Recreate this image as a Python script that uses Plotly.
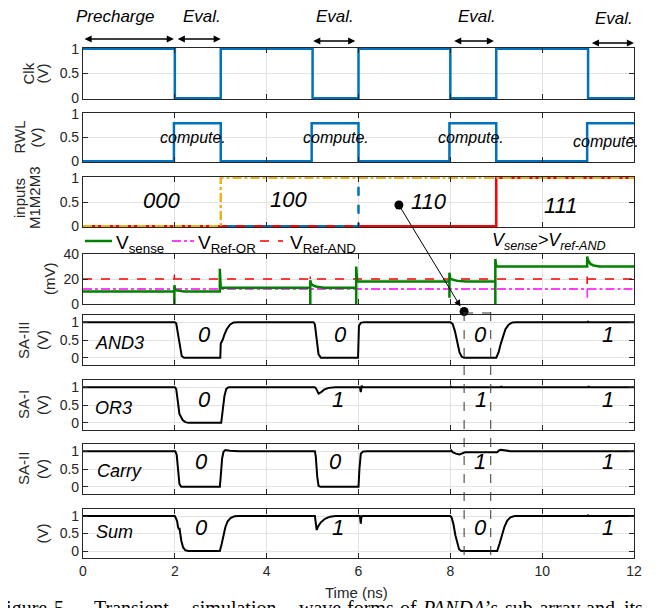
import plotly.graph_objects as go

W, H = 662, 608
OFF = 8            # browser body margin offset
L, R = 83 - OFF, 28 + OFF
PW = W - L - R
XPX = PW / 12.0


def px(xp):
    return (xp - OFF - L) / PW


def py(yp):
    return 1 - (yp - OFF) / H


FONT = "Liberation Sans, Arial, sans-serif"
SERIF = "Liberation Serif, Times New Roman, serif"
BLUE = "#0072BD"
ORANGE = "#EDB120"
RED = "#FF0000"
GREEN = "#008000"
MAGENTA = "#FF00FF"

# ---------------- data ----------------
clk_t = [0, 2, 2, 3, 3, 5, 5, 6, 6, 8, 8, 9, 9, 11, 11, 12]
clk_v = [1, 1, 0, 0, 1, 1, 0, 0, 1, 1, 0, 0, 1, 1, 0, 0]

rwl_t = [0, 1.98, 1.98, 3.0, 3.0, 4.98, 4.98, 6.0, 6.0, 7.98, 7.98, 9.0, 9.0, 10.98, 10.98, 12]
rwl_v = [0, 0, 0.8, 0.8, 0, 0, 0.8, 0.8, 0, 0, 0.8, 0.8, 0, 0, 0.8, 0.8]

m1_t = [0, 3, 3, 12]
m1_v = [0, 0, 1, 1]
m2_t = [0, 6, 6, 12]
m2_v = [0, 0, 1, 1]
m3_t = [0, 9, 9, 12]
m3_v = [0, 0, 1, 1]

vsense = [(0, 10), (1.99, 10), (1.99, 0), (1.99, 15), (2.01, 11), (2.06, 10.7), (2.2, 10),
          (2.98, 10), (2.98, 28), (3.0, 13), (4.95, 13), (4.95, 0), (4.95, 19), (4.97, 16),
          (5.03, 14.5), (5.1, 13.8), (5.25, 13), (5.95, 13), (5.95, 0), (5.95, 30), (5.97, 18),
          (7.98, 18), (7.98, 5), (7.98, 25), (8.0, 20), (8.06, 19.5), (8.15, 18.5), (8.35, 18),
          (8.98, 18), (8.98, 0), (8.98, 36), (9.0, 30), (10.98, 30), (10.98, 38), (11.0, 35),
          (11.05, 32), (11.12, 30.8), (11.25, 30), (12, 30)]
ref_and_t = [0, 12]
ref_and_v = [20, 20]
ref_and_spikes = [(1.99, 20), (1.99, 23.5), None, (2.98, 20), (2.98, 28.5), None,
                  (4.95, 20), (4.95, 22), None, (5.95, 20), (5.95, 28), None,
                  (7.98, 20), (7.98, 22), None, (8.98, 20), (8.98, 23), None,
                  (10.98, 16), (10.98, 22)]
ref_or_t = [0, 10.98, 10.98, 10.98, 12]
ref_or_v = [12, 12, 5, 12, 12]

and3 = [(0, 1), (2.0, 1), (2.03, 0.97), (2.07, 0.65), (2.11, 0.25), (2.15, 0.05), (2.2, 0),
        (2.99, 0), (3.0, 0.4), (3.04, 0.5), (3.08, 0.65), (3.13, 0.8), (3.2, 0.93), (3.28, 0.99),
        (3.38, 1), (5.02, 1), (5.05, 0.93), (5.09, 0.5), (5.13, 0.1), (5.18, 0), (5.99, 0),
        (6.01, 0.9), (6.05, 0.98), (6.12, 1), (8.0, 1), (8.05, 0.95), (8.1, 0.75), (8.15, 0.45),
        (8.2, 0.15), (8.25, 0.03), (8.3, 0), (9.0, 0), (9.05, 0.15), (9.1, 0.4), (9.15, 0.62),
        (9.2, 0.8), (9.27, 0.93), (9.35, 0.99), (9.45, 1), (10.99, 1), (11.0, 1.03), (11.01, 1),
        (12, 1)]
or3 = [(0, 1), (2.0, 1), (2.03, 0.95), (2.06, 0.6), (2.1, 0.25), (2.13, 0.18), (2.17, 0.08),
       (2.23, 0.02), (2.3, 0), (3.01, 0), (3.04, 0.3), (3.08, 0.75), (3.12, 0.95), (3.17, 1),
       (5.05, 1), (5.08, 0.95), (5.13, 0.82), (5.18, 0.85), (5.25, 0.93), (5.35, 0.98), (5.5, 1),
       (6.03, 1), (6.05, 0.86), (6.07, 1.04), (6.09, 1), (8.0, 1), (8.01, 1.03), (8.02, 1),
       (9.1, 1), (9.11, 1.03), (9.12, 1), (11.0, 1), (11.01, 1.03), (11.02, 1), (12, 1)]
carry = [(0, 1), (2.01, 1), (2.04, 0.9), (2.07, 0.4), (2.1, 0.08), (2.14, 0.0), (2.98, 0),
         (3.0, 0.3), (3.03, 0.8), (3.06, 0.98), (3.1, 1.03), (3.2, 1.01), (3.4, 1), (5.05, 1),
         (5.07, 0.85), (5.1, 0.3), (5.13, 0.03), (5.17, 0), (6.0, 0), (6.02, 0.5), (6.05, 0.93),
         (6.1, 0.99), (6.2, 1), (8.0, 1), (8.02, 1.02), (8.05, 0.97), (8.12, 0.93), (8.2, 0.91),
         (8.26, 0.95), (8.32, 0.97), (9.02, 0.97), (9.06, 1.02), (9.1, 1.04), (9.17, 1.02),
         (9.3, 1.0), (12, 1)]
sum_ = [(0, 1), (2.0, 1), (2.03, 0.92), (2.05, 0.85), (2.07, 0.68), (2.09, 0.62), (2.1, 0.66),
        (2.11, 0.55), (2.14, 0.3), (2.18, 0.1), (2.23, 0.02), (2.3, 0), (2.98, 0), (3.02, 0.2),
        (3.06, 0.45), (3.1, 0.68), (3.15, 0.85), (3.22, 0.95), (3.3, 0.99), (3.4, 1), (5.05, 1),
        (5.07, 0.8), (5.09, 0.6), (5.12, 0.7), (5.18, 0.82), (5.27, 0.92), (5.38, 0.98), (5.5, 1),
        (6.03, 1), (6.05, 0.78), (6.06, 0.95), (6.08, 1), (8.0, 1), (8.03, 0.95), (8.07, 0.75),
        (8.11, 0.45), (8.15, 0.2), (8.19, 0.05), (8.24, 0), (9.02, 0), (9.07, 0.2), (9.12, 0.45),
        (9.18, 0.7), (9.24, 0.87), (9.31, 0.96), (9.4, 1), (10.99, 1), (11.0, 1.03), (11.01, 1),
        (12, 1)]

phase_labels = ["Precharge", "Eval.", "Eval.", "Eval.", "Eval."]
phase_label_x = [0.7, 2.59, 5.49, 8.58, 11.56]
phase_label_ypx = [16, 16, 17, 17, 19]
phase_arrows = [(0.0, 1.98), (2.03, 3.0), (4.98, 5.93), (8.05, 8.95), (11.05, 12.0)]
phase_arrow_ypx = [39, 39, 41, 41, 43]

compute_x = [2.4, 5.5, 8.45, 11.4]
compute_y = [0.5, 0.5, 0.5, 0.42]

input_codes = ["000", "100", "110", "111"]
input_code_x = [1.71, 4.48, 7.53, 10.4]
input_code_y = [0.53, 0.55, 0.52, 0.43]

sa_names = ["AND3", "OR3", "Carry", "Sum"]
sa_name_x = [0.79, 0.67, 0.79, 0.68]
sa_name_y = [0.42, 0.43, 0.44, 0.55]
sa_digits = [["0", "0", "0", "1"], ["0", "1", "1", "1"], ["0", "0", "1", "1"], ["0", "1", "0", "1"]]
sa_digit_x = [[2.65, 5.6, 8.66, 11.44], [2.65, 5.55, 8.66, 11.44],
              [2.57, 5.5, 8.64, 11.44], [2.59, 5.55, 8.66, 11.44]]
sa_digit_y = [0.65, 0.65, 0.7, 0.68]

x_ticks = [0, 2, 4, 6, 8, 10, 12]
dash_lines_x = [8.3, 8.88]

caption_words = ["Figure", "5.", "Transient", "simulation", "wave", "forms", "of",
                 "<i>PANDA</i>’s", "sub-array", "and", "its"]
caption_xpx = [-7, 52, 92, 190, 297, 345, 398, 420, 503, 584, 622]

# ---------------- layout of panels (screen pixel rows) ----------------
panels = [(48, 99), (113, 162), (177, 227), (254, 304), (315, 365), (380, 430), (444, 494), (509, 558)]
y_ranges = [[-0.015, 1.015], [-0.015, 1.015], [-0.015, 1.015], [0, 40],
            [-0.2, 1.2], [-0.2, 1.2], [-0.2, 1.2], [-0.2, 1.2]]
y_tickvals = [[0, 0.5, 1], [0, 0.5, 1], [0, 0.5, 1], [0, 20, 40],
              [0, 0.5, 1], [0, 0.5, 1], [0, 0.5, 1], [0, 0.5, 1]]
y_ticktext = [["0", "0.5", "1"], ["0", "0.5", "1"], ["0", "0.5", "1"], ["0", "20", "40"],
              ["0", "0.5", "1"], ["0", "0.5", "1"], ["0", "0.5", "1"], ["0", "0.5", "1"]]

fig = go.Figure()
layout = {}
for i, (top, bot) in enumerate(panels):
    n = i + 1
    xk = "xaxis" if n == 1 else f"xaxis{n}"
    yk = "yaxis" if n == 1 else f"yaxis{n}"
    layout[xk] = dict(domain=[0, 1], anchor="y" if n == 1 else f"y{n}", range=[0, 12],
                      tickvals=x_ticks, ticktext=[str(v) for v in x_ticks],
                      showticklabels=(n == 8), ticks="inside", ticklen=5, tickwidth=1,
                      tickcolor="#262626", showline=True, linecolor="#262626", linewidth=1.2,
                      mirror="ticks", showgrid=True, gridcolor="#e3e3e3", gridwidth=1,
                      zeroline=False, tickfont=dict(family=FONT, size=14, color="#262626"),
                      fixedrange=True)
    layout[yk] = dict(domain=[py(bot), py(top)], anchor="x" if n == 1 else f"x{n}",
                      range=y_ranges[i], tickvals=y_tickvals[i], ticktext=y_ticktext[i],
                      ticks="inside", ticklen=5, tickwidth=1, tickcolor="#262626",
                      showline=True, linecolor="#262626", linewidth=1.2, mirror="ticks",
                      showgrid=True, gridcolor="#e3e3e3", gridwidth=1, zeroline=False,
                      tickfont=dict(family=FONT, size=14, color="#262626"), fixedrange=True)


def ax_ids(n):
    return ("x" if n == 1 else f"x{n}"), ("y" if n == 1 else f"y{n}")


def add_line(n, x, y, color, width, dash="solid"):
    xa, ya = ax_ids(n)
    fig.add_trace(go.Scatter(x=x, y=y, xaxis=xa, yaxis=ya, mode="lines",
                             line=dict(color=color, width=width, dash=dash),
                             showlegend=False, hoverinfo="skip"))


def unzip(pairs):
    xs, ys = [], []
    for p in pairs:
        if p is None:
            xs.append(None)
            ys.append(None)
        else:
            xs.append(p[0])
            ys.append(p[1])
    return xs, ys


add_line(1, clk_t, clk_v, BLUE, 2.5)
add_line(2, rwl_t, rwl_v, BLUE, 2.5)
add_line(3, m3_t, m3_v, RED, 2.5)
add_line(3, m2_t, m2_v, BLUE, 2.5, "dash")
add_line(3, m1_t, m1_v, ORANGE, 2.5, "dashdot")

add_line(4, ref_and_t, ref_and_v, RED, 1.5, "dash")
add_line(4, ref_or_t, ref_or_v, MAGENTA, 1.3, "dashdot")
sx, sy = unzip(ref_and_spikes)
add_line(4, sx, sy, RED, 1.5)
vx, vy = unzip(vsense)
add_line(4, vx, vy, GREEN, 2.5)

for n, data in zip([5, 6, 7, 8], [and3, or3, carry, sum_]):
    xx, yy = unzip(data)
    add_line(n, xx, yy, "black", 2)

annotations = []
shapes = []

# phase labels and arrows
for lab, xv, ypx in zip(phase_labels, phase_label_x, phase_label_ypx):
    annotations.append(dict(text=f"<i>{lab}</i>", x=xv, y=py(ypx), xref="x", yref="paper",
                            showarrow=False, font=dict(family=FONT, size=17, color="black"),
                            xanchor="center", yanchor="middle"))
for (a, b), ypx in zip(phase_arrows, phase_arrow_ypx):
    annotations.append(dict(text="", x=b, y=py(ypx), xref="x", yref="paper",
                            ax=(a - b) * XPX, ay=0, axref="pixel", ayref="pixel",
                            showarrow=True, arrowside="end+start", arrowhead=2,
                            arrowsize=1.1, arrowwidth=1.3, arrowcolor="black",
                            standoff=0, startstandoff=0))

# compute labels
for xv, yv in zip(compute_x, compute_y):
    annotations.append(dict(text="<i>compute.</i>", x=xv, y=yv, xref="x2", yref="y2",
                            showarrow=False, font=dict(family=FONT, size=16, color="black")))
# input codes
for t, xv, yv in zip(input_codes, input_code_x, input_code_y):
    annotations.append(dict(text=f"<i>{t}</i>", x=xv, y=yv, xref="x3", yref="y3",
                            showarrow=False, font=dict(family=FONT, size=22, color="black")))
# SA labels
for k in range(4):
    n = 5 + k
    xa, ya = ax_ids(n)
    annotations.append(dict(text=f"<i>{sa_names[k]}</i>", x=sa_name_x[k], y=sa_name_y[k],
                            xref=xa, yref=ya, showarrow=False,
                            font=dict(family=FONT, size=18, color="black")))
    for d, xv in zip(sa_digits[k], sa_digit_x[k]):
        annotations.append(dict(text=f"<i>{d}</i>", x=xv, y=sa_digit_y[k], xref=xa, yref=ya,
                                showarrow=False, font=dict(family=FONT, size=22, color="black")))

# y-axis titles
ytitles = [
    [("Clk", 28), ("(V)", 42)],
    [("RWL", 19), ("(V)", 36)],
    [("inputs", 19), ("M1M2M3", 34)],
    [("(mV)", 49)],
    [("SA-III", 23), ("(V)", 42)],
    [("SA-I", 23), ("(V)", 42)],
    [("SA-II", 23), ("(V)", 42)],
    [("(V)", 42)],
]
for i, items in enumerate(ytitles):
    top, bot = panels[i]
    yc = (top + bot) / 2
    if i == 2:
        yc = 198
    for txt, xpx in items:
        annotations.append(dict(text=txt, x=px(xpx), y=py(yc), xref="paper", yref="paper",
                                textangle=-90, showarrow=False,
                                font=dict(family=FONT, size=15, color="#262626"),
                                xanchor="center", yanchor="middle"))

# x title
annotations.append(dict(text="Time (ns)", x=5.95, y=py(592), xref="x8", yref="paper",
                        xanchor="center", yanchor="middle", showarrow=False,
                        font=dict(family=FONT, size=15, color="#262626")))

# manual legend for mV panel
leg_y = 241
legend_items = [(85, 112, GREEN, 2.5, "solid", "V<sub>sense</sub>", 114),
                (172, 194, MAGENTA, 1.3, "dashdot", "V<sub>Ref-OR</sub>", 196),
                (260, 283, RED, 1.5, "dash", "V<sub>Ref-AND</sub>", 288)]
for x0, x1, col, wd, ds, txt, tx in legend_items:
    shapes.append(dict(type="line", xref="paper", yref="paper", x0=px(x0), x1=px(x1),
                       y0=py(leg_y), y1=py(leg_y), line=dict(color=col, width=wd, dash=ds)))
    annotations.append(dict(text=txt, x=px(tx), y=py(leg_y + 3), xref="paper", yref="paper",
                            xanchor="left", yanchor="middle", showarrow=False,
                            font=dict(family=FONT, size=19, color="black")))

annotations.append(dict(text="<i>V<sub>sense</sub>>V<sub>ref-AND</sub></i>", x=10.15,
                        y=py(241), xref="x4", yref="paper", xanchor="center",
                        yanchor="middle", showarrow=False,
                        font=dict(family=FONT, size=18, color="black")))

# long arrow from inputs to SA region
tail_x, tail_ypx = 6.88, 205
head_x, head_ypx = 8.22, 306.5
annotations.append(dict(text="", x=head_x, y=py(head_ypx), xref="x", yref="paper",
                        ax=(tail_x - head_x) * XPX, ay=tail_ypx - head_ypx,
                        axref="pixel", ayref="pixel", showarrow=True, arrowhead=2,
                        arrowsize=1.3, arrowwidth=1, arrowcolor="black", standoff=0))
for cx, cy in [(tail_x, tail_ypx), (dash_lines_x[0], 311.5)]:
    shapes.append(dict(type="circle", xref="x", yref="paper", xsizemode="pixel",
                       ysizemode="pixel", xanchor=cx, yanchor=py(cy), x0=-4.5, x1=4.5,
                       y0=-4.5, y1=4.5, fillcolor="black", line=dict(color="black", width=0)))

# dashed guide lines
shapes.append(dict(type="line", xref="x", yref="paper", x0=dash_lines_x[0], x1=dash_lines_x[1],
                   y0=py(313), y1=py(313), line=dict(color="#333333", width=1, dash="dash")))
for xv in dash_lines_x:
    shapes.append(dict(type="line", xref="x", yref="paper", x0=xv, x1=xv,
                       y0=py(312), y1=py(558), line=dict(color="#333333", width=1, dash="dash")))

# caption (cut off at the bottom of the image, as in the source)
for w, xpx in zip(caption_words, caption_xpx):
    annotations.append(dict(text=w, x=px(xpx), y=py(608), xref="paper", yref="paper",
                            xanchor="left", yanchor="middle", showarrow=False,
                            font=dict(family=SERIF, size=20, color="black")))

fig.update_layout(**layout)
fig.update_layout(width=W, height=H, margin=dict(l=L, r=R, t=0, b=0, autoexpand=False),
                  paper_bgcolor="white", plot_bgcolor="white", showlegend=False,
                  annotations=annotations, shapes=shapes,
                  font=dict(family=FONT, color="#262626"))

fig.write_html("out.html")
